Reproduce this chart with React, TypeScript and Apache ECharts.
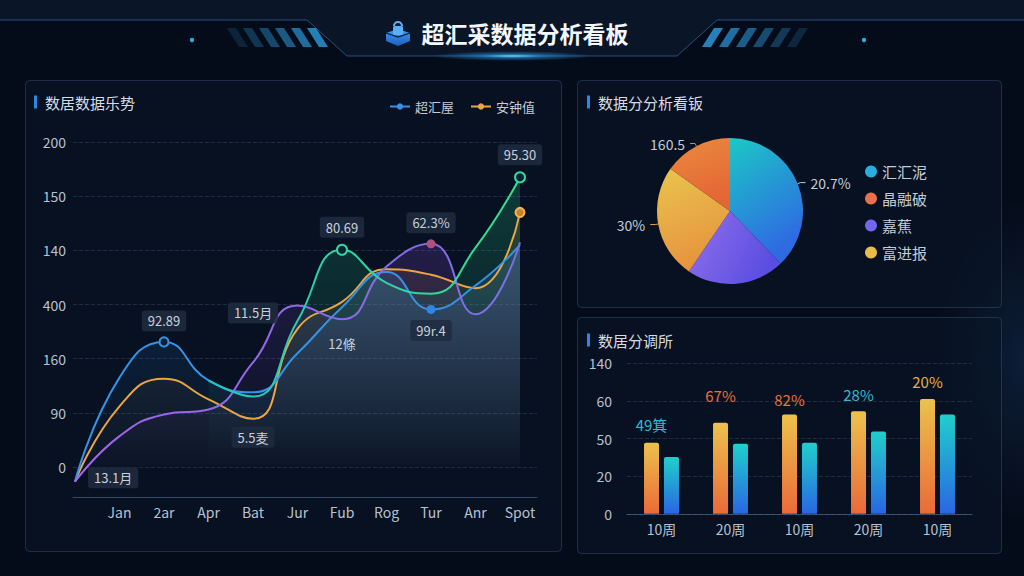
import React, { useEffect, useRef } from "react";
import * as echarts from "echarts";

// ---------- data ----------
const lineCategories = ["", "Jan", "2ar", "Apr", "Bat", "Jur", "Fub", "Rog", "Tur", "Anr", "Spot"];
const lineTickLabels = ["0", "90", "160", "400", "140", "150", "200"];
const blueValues = [-0.27, 1.65, 2.31, 1.6, 1.38, 2.1, 2.95, 3.6, 2.91, 3.35, 4.1];
const orangeValues = [-0.27, 1.12, 1.63, 1.25, 0.89, 2.55, 3.05, 3.65, 3.55, 3.3, 4.7];
const purpleValues = [-0.27, 0.57, 0.97, 1.06, 1.93, 2.98, 2.73, 3.7, 4.12, 2.82, 4.15];
const greenValues = [null, null, null, 1.6, 1.3, 2.7, 4.01, 3.4, 3.2, 4.05, 5.35];
const lineNames = ["超汇屋", "安钟值", "紫线", "绿线"];
const noteTexts = ["13.1月", "92.89", "11.5月", "5.5麦", "80.69", "12條", "62.3%", "99r.4", "95.30"];

const pieNames = ["汇汇泥", "嘉蕉", "富进报", "晶融破"];
const pieValues = [37.8, 21.7, 25.3, 15.2];
const pieNotes = ["20.7%", "", "30%", "160.5"];
const pieLegendOrder = ["汇汇泥", "晶融破", "嘉蕉", "富进报"];

const barCategories = ["10周", "20周", "10周", "20周", "10周"];
const barTickLabels = ["0", "20", "50", "60", "140"];
const barSeriesA = [1.89, 2.42, 2.64, 2.73, 3.05];
const barSeriesB = [1.51, 1.86, 1.89, 2.19, 2.64];
const barNotes = ["49箕", "67%", "82%", "28%", "20%"];

const titles = ["超汇采数据分析看板", "数居数据乐势", "数据分分析看钣", "数居分调所"];

// ---------- styles ----------
const font = '"Noto Sans CJK SC", "Noto Sans", sans-serif';
const C = {
  blue: "#3592e6",
  orange: "#eaa544",
  purple: "#a463ea",
  green: "#2fd8a4",
  text: "#c4ccd8",
};

function vgrad(c0: string, c1: string, x2 = 0, y2 = 1) {
  return {
    type: "linear",
    x: 0,
    y: 0,
    x2,
    y2,
    colorStops: [
      { offset: 0, color: c0 },
      { offset: 1, color: c1 },
    ],
  };
}
function areaGrad(rgb: string, a: number) {
  return vgrad(`rgba(${rgb},${a})`, `rgba(${rgb},0)`);
}

const boxLabel = {
  show: true,
  formatter: "{b}",
  color: "#c9d1dc",
  fontSize: 13,
  fontFamily: font,
  backgroundColor: "rgba(30,44,64,0.85)",
  borderRadius: 3,
  padding: [4, 6],
};
const hidden = { color: "rgba(0,0,0,0)" };
const hollow = (c: string) => ({ color: "#0c1f33", borderColor: c, borderWidth: 2 });

function buildOption() {
  const pieColors = [
    vgrad("#1cc8c6", "#2e6ae2", 0.4, 1),
    vgrad("#9270ea", "#5a4ee2", 1, 0.4),
    vgrad("#eac44e", "#e6943e", 0.3, 1),
    vgrad("#ea8a40", "#e46634", 0.3, 1),
  ];
  const pieLineColors = ["#a8d4f0", "#8a70e8", "#e6a040", "#e8803c"];
  const pieLegendColors: Record<string, string> = {
    汇汇泥: "#27aee0",
    晶融破: "#ea7048",
    嘉蕉: "#7466ea",
    富进报: "#e8bc48",
  };
  const barNoteColors = ["#35b9d2", "#e8703c", "#e8703e", "#35b9d2", "#e8ae40"];
  const barNoteGap = [11, 20, 8, 9, 10];

  const panels = [
    [25, 80, 536, 471],
    [577, 80, 424, 227],
    [577, 317, 424, 236],
  ];
  const graphic: any[] = [
    {
      type: "ellipse",
      shape: { cx: 1024, cy: 360, rx: 90, ry: 160 },
      style: {
        fill: {
          type: "radial",
          x: 0.5,
          y: 0.5,
          r: 0.5,
          colorStops: [
            { offset: 0, color: "rgba(40,90,160,0.22)" },
            { offset: 1, color: "rgba(40,90,160,0)" },
          ],
        },
      },
      silent: true,
    },
    {
      type: "polygon",
      shape: {
        points: [
          [0, 0],
          [1024, 0],
          [1024, 20],
          [717, 20],
          [677, 56],
          [347, 56],
          [307, 20],
          [0, 20],
        ],
      },
      style: { fill: "#0a1527" },
      silent: true,
    },
    {
      type: "polyline",
      shape: {
        points: [
          [0, 20],
          [307, 20],
          [347, 56],
          [677, 56],
          [717, 20],
          [1024, 20],
        ],
      },
      style: { stroke: "rgba(70,130,200,0.55)", lineWidth: 1, fill: null },
      silent: true,
    },
    {
      type: "ellipse",
      shape: { cx: 512, cy: 56, rx: 80, ry: 5 },
      style: {
        fill: {
          type: "radial",
          x: 0.5,
          y: 0.5,
          r: 0.5,
          colorStops: [
            { offset: 0, color: "rgba(120,220,255,0.95)" },
            { offset: 0.4, color: "rgba(40,160,240,0.5)" },
            { offset: 1, color: "rgba(40,160,240,0)" },
          ],
        },
      },
      silent: true,
    },
    { type: "circle", shape: { cx: 192, cy: 40, r: 2.2 }, style: { fill: "#3aa2ea" }, silent: true },
    { type: "circle", shape: { cx: 864, cy: 40, r: 2.2 }, style: { fill: "#3aa2ea" }, silent: true },
  ];
  for (let i = 0; i < 6; i++) {
    const x0 = 227 + i * 16;
    graphic.push({
      type: "polygon",
      shape: { points: [[x0, 28], [x0 + 9, 28], [x0 + 21, 47], [x0 + 12, 47]] },
      style: { fill: `rgba(45,150,215,${0.18 + 0.13 * i})` },
      silent: true,
    });
    const x1 = 702 + i * 17;
    graphic.push({
      type: "polygon",
      shape: { points: [[x1 + 12, 28], [x1 + 21, 28], [x1 + 9, 47], [x1, 47]] },
      style: { fill: `rgba(45,150,215,${0.85 - 0.13 * i})` },
      silent: true,
    });
  }
  // logo
  graphic.push(
    {
      type: "polygon",
      shape: { points: [[386, 33], [398, 29], [410, 33], [410, 41], [398, 46], [386, 41]] },
      style: { fill: vgrad("#3f9cf2", "#1e5fc4") },
      silent: true,
    },
    {
      type: "polyline",
      shape: { points: [[386, 33], [398, 37], [410, 33]] },
      style: { stroke: "#0b1a30", lineWidth: 1.2, fill: null },
      silent: true,
    },
    { type: "rect", shape: { x: 393, y: 26, width: 10, height: 9, r: 1.5 }, style: { fill: "#5ab0f6" }, silent: true },
    {
      type: "arc",
      shape: { cx: 398, cy: 26, r: 4, startAngle: Math.PI, endAngle: Math.PI * 2 },
      style: { stroke: "#5ab0f6", lineWidth: 2.2, fill: null },
      silent: true,
    },
    {
      type: "text",
      x: 525,
      y: 33,
      style: {
        text: titles[0],
        fill: "#f3f7fc",
        fontSize: 23,
        fontWeight: "bold",
        fontFamily: font,
        align: "center",
        verticalAlign: "middle",
      },
      silent: true,
    }
  );
  panels.forEach(([x, y, w, h]) => {
    graphic.push({
      type: "rect",
      shape: { x: x + 0.5, y: y + 0.5, width: w, height: h, r: 4 },
      style: { fill: "rgba(10,22,40,0.55)", stroke: "rgba(70,100,140,0.38)", lineWidth: 1 },
      silent: true,
    });
  });
  const titlePos = [
    [34, 102],
    [587, 102],
    [587, 340],
  ];
  titlePos.forEach(([x, y], i) => {
    graphic.push(
      { type: "rect", shape: { x, y: y - 6.5, width: 3, height: 13 }, style: { fill: "#2f86e0" }, silent: true },
      {
        type: "text",
        x: x + 11,
        y,
        style: {
          text: titles[i + 1],
          fill: "#d6dde7",
          fontSize: 15,
          fontFamily: font,
          align: "left",
          verticalAlign: "middle",
        },
        silent: true,
      }
    );
  });

  const lineCommon = {
    type: "line",
    xAxisIndex: 0,
    yAxisIndex: 0,
    smooth: true,
    symbol: "circle",
    symbolSize: 7,
    showSymbol: false,
    z: 3,
  };

  const series: any[] = [
    {
      ...lineCommon,
      name: lineNames[1],
      data: orangeValues,
      lineStyle: { color: C.orange, width: 2 },
      itemStyle: { color: C.orange },
      areaStyle: { color: areaGrad("230,160,60", 0.2) },
      markPoint: {
        symbol: "circle",
        symbolSize: 9,
        data: [
          {
            name: noteTexts[0],
            coord: [0, orangeValues[0]],
            symbolSize: 2,
            itemStyle: hidden,
            label: { ...boxLabel, position: "right", distance: 12, offset: [0, -4] },
          },
          {
            name: noteTexts[3],
            coord: [4, orangeValues[4]],
            symbolSize: 2,
            itemStyle: hidden,
            label: { ...boxLabel, position: "bottom", distance: 7 },
          },
          {
            name: "",
            coord: [10, orangeValues[10]],
            itemStyle: { color: "#c9802c", borderColor: "#f0b454", borderWidth: 2 },
            label: { show: false },
          },
        ],
      },
    },
    {
      ...lineCommon,
      name: lineNames[0],
      data: blueValues,
      lineStyle: { color: C.blue, width: 2 },
      itemStyle: { color: C.blue },
      areaStyle: { color: areaGrad("45,140,230", 0.28) },
      markPoint: {
        symbol: "circle",
        symbolSize: 9,
        data: [
          {
            name: noteTexts[1],
            coord: [2, blueValues[2]],
            itemStyle: hollow(C.blue),
            label: { ...boxLabel, position: "top", distance: 5 },
          },
          {
            name: noteTexts[5],
            coord: [6, blueValues[6]],
            symbolSize: 2,
            itemStyle: hidden,
            label: { show: true, formatter: "{b}", color: "#c9d1dc", fontSize: 13, fontFamily: font, position: "bottom", distance: 29 },
          },
          {
            name: noteTexts[7],
            coord: [8, blueValues[8]],
            itemStyle: { color: "#2f86e4" },
            label: { ...boxLabel, position: "bottom", distance: 6 },
          },
        ],
      },
    },
    {
      ...lineCommon,
      name: lineNames[2],
      data: purpleValues,
      lineStyle: { color: vgrad("#a463ea", "#7a6ee8", 1, 0), width: 2 },
      itemStyle: { color: C.purple },
      areaStyle: { color: areaGrad("150,80,230", 0.28) },
      markPoint: {
        symbol: "circle",
        symbolSize: 9,
        data: [
          {
            name: noteTexts[2],
            coord: [4, purpleValues[4]],
            symbolSize: 2,
            itemStyle: hidden,
            label: { ...boxLabel, position: "top", distance: 38 },
          },
          {
            name: noteTexts[6],
            coord: [8, purpleValues[8]],
            itemStyle: { color: "#b2507e" },
            label: { ...boxLabel, position: "top", distance: 6 },
          },
        ],
      },
    },
    {
      ...lineCommon,
      name: lineNames[3],
      data: greenValues,
      lineStyle: { color: vgrad("#22c6c0", "#34e08e", 1, 0), width: 2 },
      itemStyle: { color: C.green },
      areaStyle: { color: areaGrad("40,205,140", 0.32) },
      markPoint: {
        symbol: "circle",
        symbolSize: 10,
        data: [
          {
            name: noteTexts[4],
            coord: [6, greenValues[6]],
            itemStyle: hollow(C.green),
            label: { ...boxLabel, position: "top", distance: 6 },
          },
          {
            name: noteTexts[8],
            coord: [10, greenValues[10]],
            itemStyle: hollow(C.green),
            label: { ...boxLabel, position: "top", distance: 6 },
          },
        ],
      },
    },
    {
      type: "pie",
      center: [730, 211],
      radius: 73,
      startAngle: 90,
      z: 3,
      label: { color: C.text, fontSize: 14, fontFamily: font },
      labelLine: { length: 3, length2: 5, lineStyle: { width: 1 } },
      data: pieNames.map((n, i) => ({
        name: n,
        value: pieValues[i],
        itemStyle: { color: pieColors[i] },
        label: { show: !!pieNotes[i], formatter: pieNotes[i] },
        labelLine: { show: !!pieNotes[i], lineStyle: { color: pieLineColors[i] } },
      })),
    },
    {
      type: "bar",
      xAxisIndex: 2,
      yAxisIndex: 2,
      barWidth: 15,
      barGap: "33%",
      z: 3,
      itemStyle: { color: vgrad("#ecc24c", "#ea6a38"), borderRadius: [2, 2, 0, 0] },
      data: barSeriesA.map((v, i) => ({
        value: v,
        label: {
          show: true,
          position: "top",
          distance: barNoteGap[i],
          formatter: barNotes[i],
          color: barNoteColors[i],
          fontSize: 15,
          fontFamily: font,
        },
      })),
    },
    {
      type: "bar",
      xAxisIndex: 2,
      yAxisIndex: 2,
      barWidth: 15,
      z: 3,
      itemStyle: { color: vgrad("#1fcfcb", "#2a66e2"), borderRadius: [2, 2, 0, 0] },
      data: barSeriesB,
    },
  ];

  const axisLabelStyle = { color: "#b8c2d0", fontSize: 14, fontFamily: font };
  const split = { show: true, lineStyle: { color: "rgba(90,120,160,0.28)", type: "dashed" } };

  return {
    animation: false,
    backgroundColor: "#050c19",
    graphic,
    legend: [
      {
        data: [lineNames[0], lineNames[1]],
        top: 95,
        right: 484,
        itemWidth: 20,
        itemHeight: 8,
        itemGap: 16,
        textStyle: { color: C.text, fontSize: 13, fontFamily: font },
      },
      {
        data: pieLegendOrder.map((n) => ({ name: n, itemStyle: { color: pieLegendColors[n] } })),
        orient: "vertical",
        left: 860,
        top: 158,
        icon: "circle",
        itemWidth: 12,
        itemHeight: 12,
        itemGap: 10,
        textStyle: { color: C.text, fontSize: 15, fontFamily: font, lineHeight: 17 },
      },
    ],
    grid: [
      { left: 75, top: 142, width: 445, height: 354.8 },
      { left: 73, top: 142, width: 464, height: 325 },
      { left: 627, top: 363.4, width: 345, height: 150.4 },
    ],
    xAxis: [
      {
        type: "category",
        gridIndex: 0,
        data: lineCategories,
        boundaryGap: false,
        axisLine: { show: false, onZero: false },
        axisTick: { show: false },
        axisLabel: { ...axisLabelStyle, interval: 0, margin: 8 },
        splitLine: { show: false },
      },
      {
        type: "value",
        gridIndex: 1,
        min: 0,
        max: 1,
        offset: 30,
        axisLine: { show: true, onZero: false, lineStyle: { color: "rgba(90,120,160,0.55)" } },
        axisTick: { show: false },
        axisLabel: { show: false },
        splitLine: { show: false },
      },
      {
        type: "category",
        gridIndex: 2,
        data: barCategories,
        axisLine: { show: true, onZero: false, lineStyle: { color: "rgba(90,120,160,0.55)" } },
        axisTick: { show: false },
        axisLabel: { ...axisLabelStyle, interval: 0, margin: 8 },
      },
    ],
    yAxis: [
      { type: "value", gridIndex: 0, min: -0.55, max: 6, show: false },
      {
        type: "value",
        gridIndex: 1,
        min: 0,
        max: 6,
        interval: 1,
        axisLine: { show: false },
        axisTick: { show: false },
        axisLabel: { ...axisLabelStyle, margin: 7, formatter: (v: number) => lineTickLabels[Math.round(v)] ?? "" },
        splitLine: split,
      },
      {
        type: "value",
        gridIndex: 2,
        min: 0,
        max: 4,
        interval: 1,
        axisLine: { show: false },
        axisTick: { show: false },
        axisLabel: { ...axisLabelStyle, margin: 15, formatter: (v: number) => barTickLabels[Math.round(v)] ?? "" },
        splitLine: split,
      },
    ],
    series,
  };
}

export default function App() {
  const ref = useRef<HTMLDivElement>(null);
  useEffect(() => {
    if (!ref.current) return;
    const chart = echarts.init(ref.current, undefined, { renderer: "svg" });
    chart.setOption(buildOption() as any);
    return () => chart.dispose();
  }, []);
  return (
    <div
      ref={ref}
      style={{ position: "fixed", left: 0, top: 0, width: 1024, height: 576, background: "#050c19" }}
    />
  );
}
